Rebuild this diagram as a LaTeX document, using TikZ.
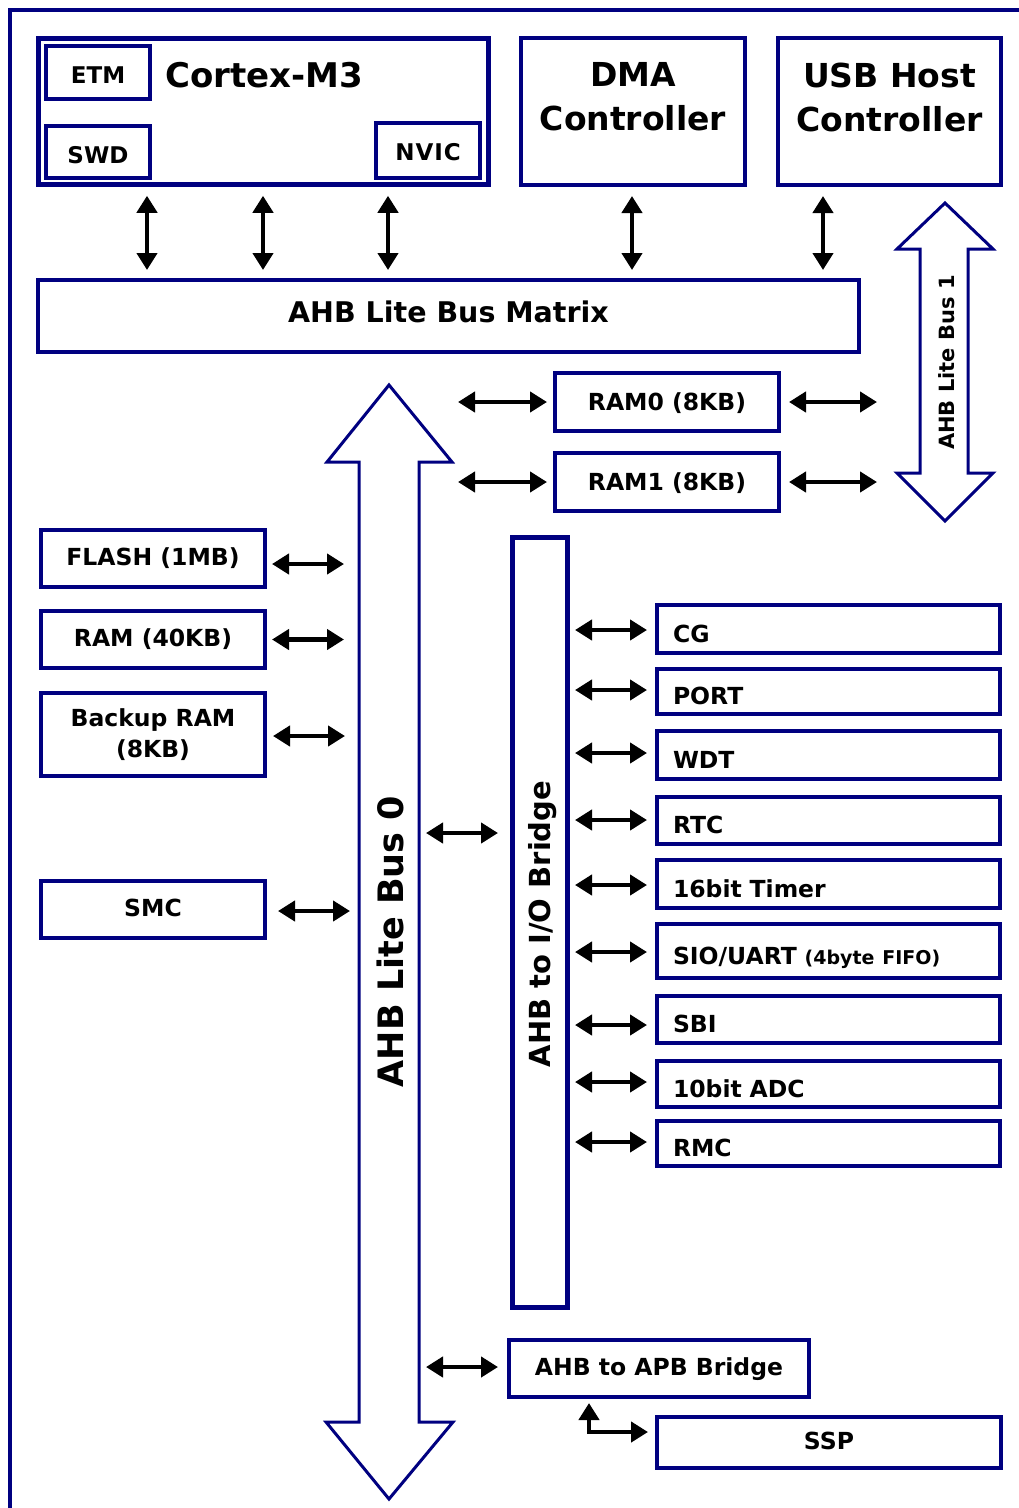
\documentclass[tikz,border=0pt]{standalone}
\usepackage{fontspec}
\setmainfont{DejaVu Sans}
\usetikzlibrary{arrows.meta}
\definecolor{nv}{RGB}{0,0,128}
\newcommand\fs[1]{\fontsize{#1}{#1}\selectfont\bfseries}
\begin{document}
\begin{tikzpicture}[x=1pt,y=-1pt,
  blk/.style={draw=nv, line width=4pt, inner sep=0pt, font=\fs{23.5}},
  cen/.style={blk, text height=18pt, text depth=1pt},
  periph/.style={blk, minimum width=343pt, text width=311pt, inner xsep=16pt, align=left, text height=26pt, text depth=0pt},
  dbl/.style={line width=4.5pt, {Triangle[length=17pt,width=20pt]}-{Triangle[length=17pt,width=20pt]}},
  bus/.style={draw=nv, line width=3pt, line join=miter, fill=white},
  lbl/.style={inner sep=0pt}]
\useasboundingbox (0,0) rectangle (1019,1508);
\fill[white] (0,0) rectangle (1019,1508);
% outer frame
\draw[nv, line width=4pt] (10,1512) -- (10,10) -- (1022,10);

% ---- top row
\node[blk, line width=3.5pt, minimum width=451pt, minimum height=147pt] (cortex) at (263.5,111.5) {};
\draw[nv, line width=1.2pt] ([xshift=4.5pt,yshift=-4.5pt]cortex.north west) rectangle ([xshift=-4.5pt,yshift=4.5pt]cortex.south east);
\node[blk, minimum width=104pt, minimum height=53pt, text height=22pt, text depth=0pt, font=\fs{23}] (etm) at (98,72.5) {ETM};
\node[blk, minimum width=104pt, minimum height=52pt, text height=22pt, text depth=0pt, font=\fs{23}] (swd) at (98,152) {SWD};
\node[blk, minimum width=104pt, minimum height=55pt, text height=19pt, text depth=0pt, font=\fs{23}] (nvic) at (428,150.5) {N\kern1pt V\kern1pt I\kern1pt C};
\node[lbl, anchor=base west, font=\fs{34}] (cmlbl) at (165,87) {Cortex-M3};

\node[blk, minimum width=224pt, minimum height=147pt] (dma) at (633,111.5) {};
\node[lbl, align=center, font={\fontsize{33}{44}\selectfont\bfseries}] (dmalbl) at (633,97) {DMA\\Controller};
\node[blk, minimum width=223pt, minimum height=147pt] (usb) at (889.5,111.5) {};
\node[lbl, align=center, font={\fontsize{33}{44}\selectfont\bfseries}] (usblbl) at (889.5,97) {USB Host\\Controller};

\node[blk, minimum width=821pt, minimum height=72pt, text height=22pt, text depth=10pt, font=\fs{28.5}] (matrix) at (448.5,316) {AHB Lite Bus Matrix};

\foreach \xx/\src in {147/cortex,263/cortex,388/cortex,632/dma,823/usb}{
  \coordinate (cx) at (\xx,0);
  \draw[dbl, shorten <=9pt, shorten >=8pt] (\src.south -| cx) -- (matrix.north -| cx);
}

% ---- buses
\draw[bus] (389,385) -- (452,462) -- (419,462) -- (419,1422) -- (453,1422) -- (389,1499)
  -- (326,1422) -- (359,1422) -- (359,462) -- (327,462) -- cycle;
\node[lbl, rotate=90, font=\fs{35}, text height=26pt, text depth=0pt] (bus0) at (390,941.5) {AHB Lite Bus 0};
\draw[bus] (945,203) -- (993,249) -- (968,249) -- (968,473) -- (993,473) -- (945,521)
  -- (897,473) -- (920,473) -- (920,249) -- (897,249) -- cycle;
\node[lbl, rotate=90, font=\fs{21}, text height=16pt, text depth=0pt] (bus1) at (946,362.5) {AHB Lite Bus 1};
\coordinate (b0l) at (359,0);
\coordinate (b0r) at (419,0);
\coordinate (fl) at (458,0);
\coordinate (fr) at (877,0);

% ---- RAM0 / RAM1
\node[cen, minimum width=224pt, minimum height=58pt] (ram0) at (667,402) {RAM0 (8KB)};
\node[cen, minimum width=224pt, minimum height=58pt] (ram1) at (667,482) {RAM1 (8KB)};
\foreach \r in {ram0,ram1}{
  \draw[dbl, shorten >=6pt] (\r.west -| fl) -- (\r.west);
  \draw[dbl, shorten <=8pt] (\r.east) -- (\r.east -| fr);
}

% ---- left memories
\node[cen, text height=17pt, text depth=3pt, minimum width=224pt, minimum height=57pt] (flash) at (153,558.5) {FLASH (1MB)};
\node[cen, text height=17pt, text depth=3pt, minimum width=224pt, minimum height=57pt] (ram40) at (153,639.5) {RAM (40KB)};
\node[blk, align=center, font={\fontsize{23.5}{31}\selectfont\bfseries}, minimum width=224pt, minimum height=83pt] (bram) at (153,734.5) {Backup RAM\\(8KB)};
\node[cen, text height=17pt, text depth=3pt, minimum width=224pt, minimum height=57pt] (smc) at (153,909.5) {SMC};
\draw[dbl, shorten <=5pt, shorten >=15pt] ([yshift=-5.5pt]flash.east) -- ([yshift=-5.5pt]flash.east -| b0l);
\draw[dbl, shorten <=5pt, shorten >=15pt] (ram40.east) -- (ram40.east -| b0l);
\draw[dbl, shorten <=6pt, shorten >=14pt] ([yshift=-1.5pt]bram.east) -- ([yshift=-1.5pt]bram.east -| b0l);
\draw[dbl, shorten <=11pt, shorten >=9pt] ([yshift=-1.5pt]smc.east) -- ([yshift=-1.5pt]smc.east -| b0l);

% ---- I/O bridge
\node[blk, line width=5pt, minimum width=55pt, minimum height=770pt] (iob) at (540,922.5) {};
\node[lbl, rotate=90, font=\fs{29}, text height=21pt, text depth=0pt] (ioblbl) at (539.5,924) {AHB to I/O Bridge};
\coordinate (iy) at (0,833);
\draw[dbl, shorten <=7pt, shorten >=12pt] (b0r |- iy) -- (iob.west |- iy);

% ---- peripherals
\node[periph, minimum height=48pt] (cg) at (828.5,629) {CG};
\node[periph, minimum height=45pt] (port) at (828.5,691.5) {PORT};
\node[periph, minimum height=48pt] (wdt) at (828.5,755) {WDT};
\node[periph, minimum height=47pt] (rtc) at (828.5,820.5) {RTC};
\node[periph, minimum height=48pt] (tmr) at (828.5,884) {16bit Timer};
\node[periph, minimum height=54pt] (sio) at (828.5,951) {SIO/UART {\fontsize{19}{19}\selectfont\bfseries(4byte FIFO)}};
\node[periph, minimum height=47pt] (sbi) at (828.5,1019.5) {SBI};
\node[periph, minimum height=46pt] (adc) at (828.5,1084) {10bit ADC};
\node[periph, minimum height=45pt] (rmc) at (828.5,1143.5) {RMC};
\foreach \p/\yy in {cg/630,port/690,wdt/753,rtc/820,tmr/885,sio/952,sbi/1025,adc/1082,rmc/1142}{
  \coordinate (py) at (0,\yy);
  \draw[dbl, shorten <=5pt, shorten >=8pt] (iob.east |- py) -- (\p.west |- py);
}

% ---- APB bridge and SSP
\node[cen, text height=17pt, text depth=3pt, minimum width=300pt, minimum height=57pt] (apb) at (659,1368.5) {AHB to APB Bridge};
\node[cen, text height=17pt, text depth=3pt, minimum width=344pt, minimum height=51pt] (ssp) at (829,1442.5) {SSP};
\coordinate (ay) at (0,1367);
\draw[dbl, shorten <=7pt, shorten >=9pt] (b0r |- ay) -- (apb.west |- ay);
\coordinate (elb) at (589,1432);
\draw[dbl, line join=miter, shorten <=4pt, shorten >=7pt] (apb.south -| elb) |- (ssp.west |- elb);
\end{tikzpicture}
\end{document}
